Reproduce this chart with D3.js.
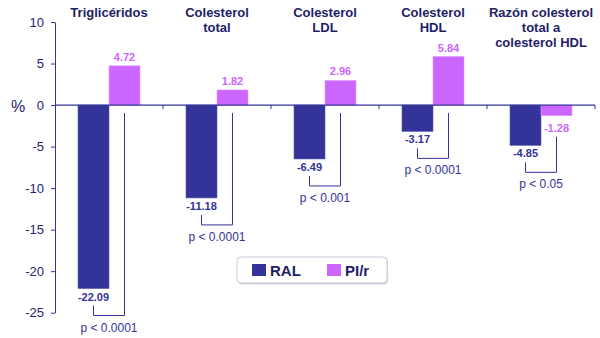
<!DOCTYPE html>
<html>
<head>
<meta charset="utf-8">
<script src="https://cdn.jsdelivr.net/npm/d3@7"></script>
<style>
  body { margin: 0; background: #fff; }
  svg { font-family: "Liberation Sans", Arial, sans-serif; }
</style>
</head>
<body>
<div id="chart"></div>
<script>
var categories = ["Triglicéridos", "Colesterol total", "Colesterol LDL", "Colesterol HDL", "Razón colesterol total a colesterol HDL"];
var titleLines = [["Triglicéridos"], ["Colesterol", "total"], ["Colesterol", "LDL"], ["Colesterol", "HDL"], ["Razón colesterol", "total a", "colesterol HDL"]];
var series = ["RAL", "PI/r"];
var ralValues = [-22.09, -11.18, -6.49, -3.17, -4.85];
var pirValues = [4.72, 1.82, 2.96, 5.84, -1.28];
var pLabels = ["p < 0.0001", "p < 0.0001", "p < 0.001", "p < 0.0001", "p < 0.05"];
var yTicks = [10, 5, 0, -5, -10, -15, -20, -25];

var width = 600, height = 338;
var navy = "#333399", violet = "#cc66ff", textNavy = "#1e1e66";

// plain hyphen for negatives, like the original
var fmt2 = d3.formatLocale({ decimal: ".", thousands: ",", grouping: [3], currency: ["", ""], minus: "-" }).format(".2f");

var svg = d3.select("#chart").append("svg")
  .attr("width", width)
  .attr("height", height);

var x0 = d3.scaleBand()
  .domain(categories)
  .range([55, 595])
  .paddingInner(0)
  .paddingOuter(0);

var x1 = d3.scaleBand()
  .domain(series)
  .range([0, x0.bandwidth()])
  .paddingInner(0)
  .paddingOuter(0.742);

var y = d3.scaleLinear()
  .domain([-25, 10])
  .range([312.7, 22]);

var rows = categories.map(function(c, i) {
  return { cat: c, lines: titleLines[i], ral: ralValues[i], pir: pirValues[i], p: pLabels[i] };
});

// Y axis
var yAxis = d3.axisLeft(y)
  .tickValues(yTicks)
  .tickFormat(function(d) { return String(d); })
  .tickSize(4)
  .tickSizeOuter(0)
  .tickPadding(7);

var yg = svg.append("g")
  .attr("transform", "translate(55,0)")
  .call(yAxis);
yg.select(".domain").attr("stroke", navy);
yg.selectAll(".tick line").attr("stroke", navy);
yg.selectAll(".tick text")
  .attr("fill", "#24246a")
  .style("font-size", "13px")
  .style("font-family", "Liberation Sans, Arial, sans-serif");

svg.append("text")
  .attr("x", 18)
  .attr("y", 112)
  .attr("text-anchor", "middle")
  .attr("fill", "#24246a")
  .style("font-size", "16px")
  .text("%");

// Bars
var groups = svg.selectAll(".cat")
  .data(rows)
  .enter().append("g")
  .attr("class", "cat")
  .attr("transform", function(d) { return "translate(" + x0(d.cat) + ",0)"; });

groups.append("rect")
  .attr("x", x1("RAL"))
  .attr("width", x1.bandwidth())
  .attr("y", function(d) { return y(Math.max(0, d.ral)); })
  .attr("height", function(d) { return Math.abs(y(d.ral) - y(0)); })
  .attr("fill", navy)
  .attr("stroke", "#5a5ab0")
  .attr("stroke-width", 0.6);

groups.append("rect")
  .attr("x", x1("PI/r"))
  .attr("width", x1.bandwidth())
  .attr("y", function(d) { return y(Math.max(0, d.pir)); })
  .attr("height", function(d) { return Math.abs(y(d.pir) - y(0)); })
  .attr("fill", violet)
  .attr("stroke", "#dd99ff")
  .attr("stroke-width", 0.6);

// Zero line with category ticks
svg.append("line")
  .attr("x1", 55).attr("x2", 595)
  .attr("y1", y(0)).attr("y2", y(0))
  .attr("stroke", navy)
  .attr("stroke-width", 1.2);

svg.selectAll(".xtick")
  .data(categories)
  .enter().append("line")
  .attr("x1", function(c) { return x0(c) + x0.bandwidth(); })
  .attr("x2", function(c) { return x0(c) + x0.bandwidth(); })
  .attr("y1", y(0))
  .attr("y2", y(0) + 4)
  .attr("stroke", navy);

// Value labels
groups.append("text")
  .attr("x", x1("RAL") + x1.bandwidth() / 2)
  .attr("y", function(d) { return y(d.ral) + 12; })
  .attr("text-anchor", "middle")
  .attr("fill", navy)
  .style("font-size", "11px")
  .style("font-weight", "bold")
  .text(function(d) { return fmt2(d.ral); });

groups.append("text")
  .attr("x", x1("PI/r") + x1.bandwidth() / 2)
  .attr("y", function(d) { return d.pir >= 0 ? y(d.pir) - 5 : y(d.pir) + 16; })
  .attr("text-anchor", "middle")
  .attr("fill", violet)
  .style("font-size", "11px")
  .style("font-weight", "bold")
  .text(function(d) { return fmt2(d.pir); });

// p-value brackets
var bracket = groups.append("g");
bracket.append("path")
  .attr("fill", "none")
  .attr("stroke", navy)
  .attr("stroke-width", 1)
  .attr("d", function(d) {
    var xl = x1("RAL") + x1.bandwidth() / 2,
        xr = x1("PI/r") + x1.bandwidth() / 2,
        bottom = y(d.ral) + 27,
        topR = d.pir >= 0 ? y(0) + 8 : y(d.pir) + 21;
    return "M" + xl + "," + (bottom - 10) + "V" + bottom + "H" + xr + "V" + topR;
  });

bracket.append("text")
  .attr("x", x1("RAL") + x1.bandwidth())
  .attr("y", function(d) { return y(d.ral) + 43; })
  .attr("text-anchor", "middle")
  .attr("fill", navy)
  .style("font-size", "12px")
  .text(function(d) { return d.p; });

// Category titles
groups.append("text")
  .attr("text-anchor", "middle")
  .attr("fill", textNavy)
  .style("font-size", "13px")
  .style("font-weight", "bold")
  .selectAll("tspan")
  .data(function(d) { return d.lines; })
  .enter().append("tspan")
  .attr("x", x0.bandwidth() / 2)
  .attr("y", function(l, i) { return 17 + i * 15; })
  .text(function(l) { return l; });

// Legend
var legend = svg.append("g").attr("transform", "translate(237,257)");
legend.append("rect")
  .attr("x", 1).attr("y", 1.5)
  .attr("width", 150).attr("height", 26)
  .attr("rx", 4)
  .attr("fill", "#d8d8e0");
legend.append("rect")
  .attr("width", 150).attr("height", 26)
  .attr("rx", 4)
  .attr("fill", "#fff")
  .attr("stroke", "#c8c8d8");

var legendColors = [navy, violet];
var legendX = [15, 90];
var items = legend.selectAll(".item")
  .data(series)
  .enter().append("g")
  .attr("transform", function(d, i) { return "translate(" + legendX[i] + ",7)"; });
items.append("rect")
  .attr("width", 14).attr("height", 12)
  .attr("fill", function(d, i) { return legendColors[i]; });
items.append("text")
  .attr("x", 18)
  .attr("y", 11.5)
  .attr("fill", textNavy)
  .style("font-size", "15px")
  .style("font-weight", "bold")
  .text(function(d) { return d; });
</script>
</body>
</html>
